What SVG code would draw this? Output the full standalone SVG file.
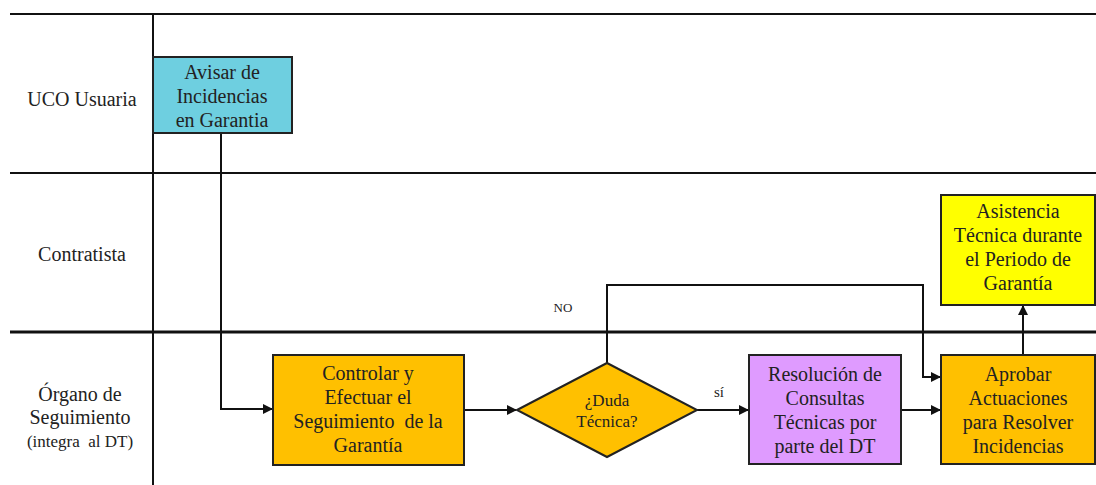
<svg xmlns="http://www.w3.org/2000/svg" width="1096" height="485" viewBox="0 0 1096 485" font-family="'Liberation Serif', 'DejaVu Serif', 'Times New Roman', serif">
  <style>
    .lane { stroke: #111; stroke-width: 2; fill: none; }
    .lane-thick { stroke: #111; stroke-width: 3; fill: none; }
    .box { stroke: #222; stroke-width: 2; }
    text { font-family: "Liberation Serif", "DejaVu Serif", "Times New Roman", serif; fill: #222; text-anchor: middle; white-space: pre; }
    .lbl { font-size: 20px; }
    .small { font-size: 17px; }
    .bt { font-size: 20px; }
    .wire { stroke: #111; stroke-width: 2; fill: none; }
  </style>
  <defs>
    <marker id="arr" viewBox="0 0 10 10" refX="9" refY="5" markerWidth="5" markerHeight="5" orient="auto">
      <path d="M0,0 L10,5 L0,10 z" fill="#111"/>
    </marker>
  </defs>
  <rect width="1096" height="485" fill="#fff"/>

  <!-- swimlane grid -->
  <g id="lanes">
    <line class="lane" x1="10" y1="14" x2="1096" y2="14"/>
    <line class="lane" x1="10" y1="173" x2="1096" y2="173"/>
    <line class="lane-thick" x1="10" y1="332" x2="1096" y2="332"/>
    <line class="lane" x1="153" y1="14" x2="153" y2="485"/>
    <text class="lbl" x="82" y="106">UCO Usuaria</text>
    <text class="lbl" x="82" y="261">Contratista</text>
    <text class="lbl" x="80" y="401">Órgano de</text>
    <text class="lbl" x="80" y="424">Seguimiento</text>
    <text class="small" x="80" y="447" xml:space="preserve">(integra  al DT)</text>
  </g>

  <!-- connectors -->
  <g id="connectors">
    <polyline class="wire" points="221,133 221,409 272,409" marker-end="url(#arr)"/>
    <line class="wire" x1="464" y1="410" x2="516" y2="410" marker-end="url(#arr)"/>
    <line class="wire" x1="697" y1="410" x2="748" y2="410" marker-end="url(#arr)"/>
    <line class="wire" x1="901" y1="410" x2="940" y2="410" marker-end="url(#arr)"/>
    <polyline class="wire" points="607,363 607,285 923,285 923,377 940,377" marker-end="url(#arr)"/>
    <line class="wire" x1="1023" y1="355" x2="1023" y2="306" marker-end="url(#arr)"/>
    <text x="563" y="312" font-size="13">NO</text>
    <text x="719" y="397" font-size="15">sí</text>
  </g>

  <g id="avisar">
    <rect class="box" x="153" y="57" width="139" height="76" fill="#6ECFE0"/>
    <text class="bt" x="222" y="79">Avisar de</text>
    <text class="bt" x="222" y="103">Incidencias</text>
    <text class="bt" x="222" y="127">en Garantia</text>
  </g>

  <g id="controlar">
    <rect class="box" x="273" y="355" width="191" height="110" fill="#FFC000"/>
    <text class="bt" x="368" y="380">Controlar y</text>
    <text class="bt" x="368" y="404">Efectuar el</text>
    <text class="bt" x="368" y="428" xml:space="preserve">Seguimiento  de la</text>
    <text class="bt" x="368" y="452">Garantía</text>
  </g>

  <g id="duda">
    <polygon class="box" points="517,410 607,363 697,410 607,457" fill="#FFC000"/>
    <text x="607" y="406" font-size="17">¿Duda</text>
    <text x="607" y="427" font-size="17">Técnica?</text>
  </g>

  <g id="resolucion">
    <rect class="box" x="749" y="355" width="152" height="109" fill="#DF9BFF"/>
    <text class="bt" x="825" y="381">Resolución de</text>
    <text class="bt" x="825" y="405">Consultas</text>
    <text class="bt" x="825" y="429">Técnicas por</text>
    <text class="bt" x="825" y="453">parte del DT</text>
  </g>

  <g id="aprobar">
    <rect class="box" x="941" y="355" width="154" height="109" fill="#FFC000"/>
    <text class="bt" x="1018" y="381">Aprobar</text>
    <text class="bt" x="1018" y="405">Actuaciones</text>
    <text class="bt" x="1018" y="429">para Resolver</text>
    <text class="bt" x="1018" y="453">Incidencias</text>
  </g>

  <g id="asistencia">
    <rect class="box" x="941" y="195" width="154" height="110" fill="#FFFF00"/>
    <text class="bt" x="1018" y="218">Asistencia</text>
    <text class="bt" x="1018" y="242">Técnica durante</text>
    <text class="bt" x="1018" y="266">el Periodo de</text>
    <text class="bt" x="1018" y="290">Garantía</text>
  </g>
</svg>
